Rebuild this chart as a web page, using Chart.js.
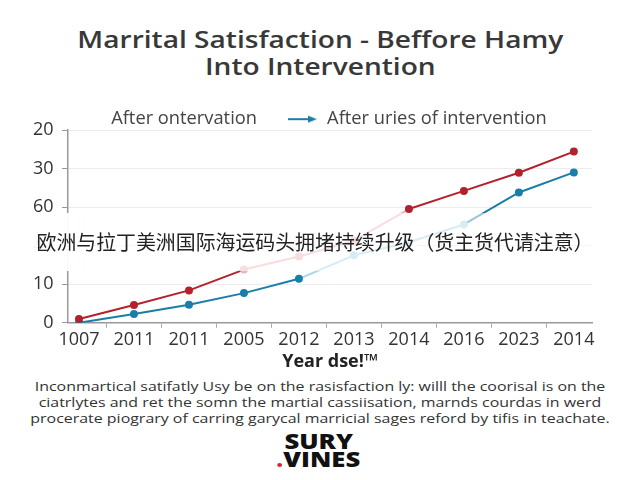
<!DOCTYPE html>
<html>
<head>
<meta charset="utf-8">
<script src="https://cdn.jsdelivr.net/npm/chart.js@4/dist/chart.umd.min.js"></script>
<style>
    body { margin: 0; background: #fff; }
    #wrap { position: relative; width: 640px; height: 480px; overflow: hidden; background: #fff; }
    #title {
        position: absolute; left: 0; top: 25px; width: 640px; text-align: center;
        font-family: "Open Sans", sans-serif; font-weight: 600; font-size: 24px; line-height: 27px; color: #383838;
        transform: scaleX(1.17); transform-origin: 318px 0;
    }
    #chartBox { position: absolute; left: 0; top: 0; width: 640px; height: 376px; }
    #banner {
        position: absolute; left: 25px; top: 213px; width: 580px; height: 58px;
        background: linear-gradient(to right, rgba(255,255,255,0.95) 0, rgba(255,255,255,0.95) 52px, rgba(255,255,255,0.55) 62px, rgba(255,255,255,0.55) 100%);
        font-family: "Noto Sans CJK SC", sans-serif; font-size: 19.9px; color: #222;
        line-height: 58px; text-align: center; white-space: nowrap;
    }
    #note {
        position: absolute; left: 0; top: 378px; width: 640px; text-align: center;
        font-family: "Open Sans", sans-serif; font-size: 13.5px; line-height: 16px; color: #333;
        transform: scaleX(1.18); transform-origin: 320px 0;
    }
    #logo {
        position: absolute; left: 0; top: 432px; width: 640px; text-align: center;
        font-family: "Open Sans", sans-serif; font-weight: 800; font-size: 21px; line-height: 18px; color: #111;
        transform: scaleX(1.22); transform-origin: 326px 0;
    }
    #logo .dot { display: inline-block; width: 4px; height: 4px; border-radius: 2px; background: #e0202a; margin-right: 1px; }
</style>
</head>
<body>
<div id="wrap">
    <div id="title">Marrital Satisfaction - Beffore Hamy<br>Into Intervention</div>
    <div id="chartBox"><canvas id="satChart"></canvas></div>
    <div id="banner">欧洲与拉丁美洲国际海运码头拥堵持续升级（货主货代请注意）</div>
    <div id="note">
        Inconmartical satifatly Usy be on the rasisfaction ly: willl the coorisal is on the<br>
        ciatrlytes and ret the somn the martial cassiisation, marnds courdas in werd<br>
        procerate piograry of carring garycal marricial sages reford by tifis in teachate.
    </div>
    <div id="logo">SURY<br><span class="dot"></span>VINES</div>
</div>
<script>
const years = ['1007', '2011', '2011', '2005', '2012', '2013', '2014', '2016', '2023', '2014'];
const yTickLabels = ['0', '10', '40', '60', '30', '20'];
const afterOntervation = [1.0, 4.6, 8.4, 13.8, 17.2, 21.3, 29.5, 34.2, 38.9, 44.4];
const afterUries = [0, 2.3, 4.7, 7.7, 11.4, 17.5, 20.9, 25.5, 33.8, 39.0];

const RED = '#b3222c';
const RED_PALE = '#f0b3ba';
const BLUE = '#1a7fa8';
const BLUE_PALE = '#a9d6e6';

function toPoints(values) {
    return values.map((v, i) => ({ x: i, y: v }));
}

// arrow used as the legend marker of the blue series, sits at the right end of the box
function arrowMarker() {
    const c = document.createElement('canvas');
    c.width = 60;
    c.height = 10;
    const g = c.getContext('2d');
    g.strokeStyle = BLUE;
    g.fillStyle = BLUE;
    g.lineWidth = 2;
    g.beginPath();
    g.moveTo(30, 5);
    g.lineTo(52, 5);
    g.stroke();
    g.beginPath();
    g.moveTo(59, 5);
    g.lineTo(50, 1.5);
    g.lineTo(50, 8.5);
    g.closePath();
    g.fill();
    return c;
}

function emptyMarker() {
    const c = document.createElement('canvas');
    c.width = 1;
    c.height = 1;
    return c;
}

const fadedRed = [3, 4, 5];
const fadedBlue = [4, 5, 6];

const ctx = document.getElementById('satChart');
new Chart(ctx, {
    type: 'line',
    data: {
        datasets: [{
            label: 'After ontervation',
            data: toPoints(afterOntervation),
            borderColor: RED,
            backgroundColor: RED,
            borderWidth: 2,
            pointRadius: 3,
            pointBackgroundColor: c => (c.dataIndex >= 3 && c.dataIndex <= 5) ? RED_PALE : RED,
            pointBorderColor: c => (c.dataIndex >= 3 && c.dataIndex <= 5) ? RED_PALE : RED,
            tension: 0,
            segment: {
                borderColor: s => fadedRed.includes(s.p0DataIndex) ? RED_PALE : RED
            }
        }, {
            label: 'After uries of intervention',
            data: toPoints(afterUries),
            borderColor: BLUE,
            backgroundColor: BLUE,
            borderWidth: 2,
            pointRadius: 3,
            pointBackgroundColor: c => (c.dataIndex >= 5 && c.dataIndex <= 7) ? BLUE_PALE : BLUE,
            pointBorderColor: c => (c.dataIndex >= 5 && c.dataIndex <= 7) ? BLUE_PALE : BLUE,
            tension: 0,
            segment: {
                borderColor: s => fadedBlue.includes(s.p0DataIndex) ? BLUE_PALE : BLUE
            }
        }]
    },
    options: {
        responsive: true,
        maintainAspectRatio: false,
        animation: false,
        layout: { padding: { left: 41, right: 48, top: 109, bottom: 0 } },
        scales: {
            x: {
                type: 'linear',
                min: -0.2,
                max: 9.33,
                afterBuildTicks: scale => {
                    scale.ticks = years.map((_, i) => ({ value: i }));
                },
                ticks: {
                    callback: value => years[value],
                    autoSkip: false,
                    maxRotation: 0,
                    color: '#333',
                    padding: 1,
                    font: { family: 'Open Sans', size: 18 }
                },
                grid: { drawOnChartArea: false, offset: true, tickLength: 5, color: '#aaa' },
                border: { color: '#999', width: 1.5 },
                title: {
                    display: true,
                    text: 'Year dse!™',
                    color: '#222',
                    padding: { top: 0, bottom: 3 },
                    font: { family: 'Open Sans', size: 18, weight: 'bold' }
                }
            },
            y: {
                min: 0,
                max: 50,
                // labels are pulled back out to the left of the axis
                afterFit: scale => { scale.width = 27; },
                ticks: {
                    stepSize: 10,
                    callback: (value, index) => yTickLabels[index],
                    color: '#333',
                    mirror: true,
                    crossAlign: 'far',
                    padding: -35,
                    font: { family: 'Open Sans', size: 18 }
                },
                grid: { color: '#ececec', tickLength: 6, tickColor: '#999' },
                border: { color: '#999', width: 1.5 }
            }
        },
        plugins: {
            title: { display: false },
            legend: {
                align: 'start',
                maxHeight: 21,
                labels: {
                    usePointStyle: true,
                    pointStyleWidth: 60,
                    padding: 1,
                    color: '#444',
                    font: { family: 'Open Sans', size: 18.3, lineHeight: 1 },
                    generateLabels: chart => chart.data.datasets.map((ds, i) => ({
                        text: ds.label,
                        datasetIndex: i,
                        pointStyle: i === 0 ? emptyMarker() : arrowMarker(),
                        fillStyle: 'transparent',
                        strokeStyle: 'transparent',
                        lineWidth: 0,
                        fontColor: '#444'
                    }))
                }
            },
            tooltip: { enabled: false }
        }
    }
});
</script>
</body>
</html>
